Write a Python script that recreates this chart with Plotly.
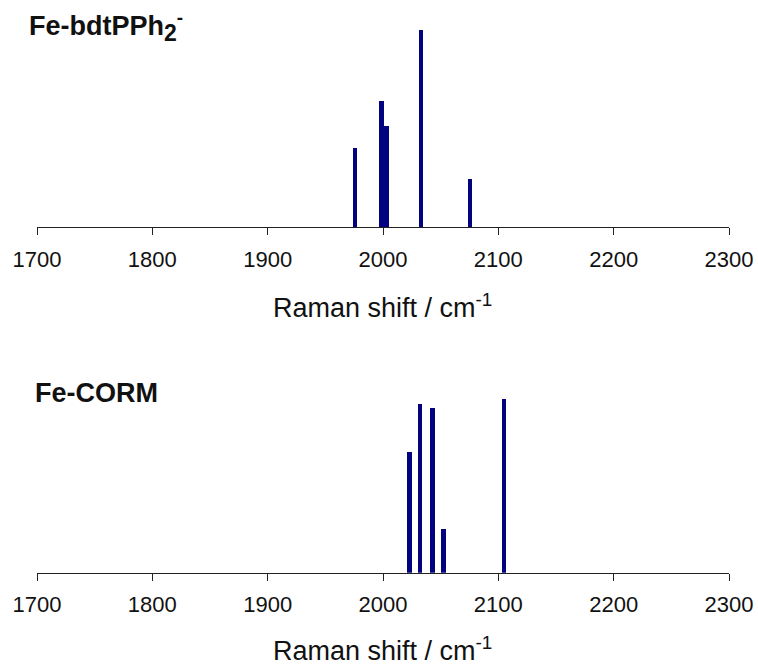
import plotly.graph_objects as go
from plotly.subplots import make_subplots

# Data (Raman shift in cm^-1, relative intensity)
bdt_shift = [1975.7, 1998.7, 2002.8, 2033.0, 2075.4]
bdt_int = [40.3, 63.9, 51.4, 100.0, 24.3]

corm_shift = [2023.0, 2032.0, 2042.7, 2052.7, 2105.0]
corm_int = [69.8, 97.5, 95.2, 25.0, 100.0]

tick_vals = [1700, 1800, 1900, 2000, 2100, 2200, 2300]
tick_text = ["1700", "1800", "1900", "2000", "2100", "2200", "2300"]

W, H = 758, 668
ML, MR = 37, 29
BAR_COLOR = "#03037f"
FONT = "Liberation Sans, Arial, sans-serif"

fig = make_subplots(rows=2, cols=1)

fig.add_trace(go.Bar(x=bdt_shift, y=bdt_int, width=4.1, marker=dict(color=BAR_COLOR, line=dict(width=0)),
                     showlegend=False), row=1, col=1)
fig.add_trace(go.Bar(x=corm_shift, y=corm_int, width=4.1, marker=dict(color=BAR_COLOR, line=dict(width=0)),
                     showlegend=False), row=2, col=1)

def py(p):
    return 1 - p / H

def px(p):
    return (p - ML) / (W - ML - MR)

xax = dict(range=[1700, 2300], tickvals=tick_vals, ticktext=tick_text, showgrid=False, zeroline=False,
           showline=True, linecolor="#222222", linewidth=1.3, ticks="outside", ticklen=7,
           tickcolor="#222222", tickwidth=1.3, ticklabelstandoff=5,
           tickfont=dict(family=FONT, size=22, color="#111111"))
yax = dict(range=[0, 110], visible=False, showgrid=False, zeroline=False)

fig.update_layout(
    width=W, height=H, margin=dict(l=ML, r=MR, t=0, b=0),
    plot_bgcolor="white", paper_bgcolor="white", bargap=0,
    xaxis=dict(**xax, domain=[0, 1], anchor="y"),
    xaxis2=dict(**xax, domain=[0, 1], anchor="y2"),
    yaxis=dict(**yax, domain=[py(227.3), py(227.3 - 197.6 * 1.1)]),
    yaxis2=dict(**yax, domain=[py(572.7), py(572.7 - 173.4 * 1.1)]),
)

annots = [
    dict(text="<b>Fe-bdtPPh<sub><span style='font-size:23px'>2</span></sub><sup>-</sup></b>",
         x=px(27), y=py(26), xanchor="left", yanchor="middle",
         font=dict(family=FONT, size=27, color="#111111")),
    dict(text="<b>Fe-CORM</b>", x=px(33), y=py(393), xanchor="left", yanchor="middle",
         font=dict(family=FONT, size=27, color="#111111")),
    dict(text="Raman shift / cm<sup>-1</sup>", x=px(382.5), y=py(306), xanchor="center", yanchor="middle",
         font=dict(family=FONT, size=27, color="#111111")),
    dict(text="Raman shift / cm<sup>-1</sup>", x=px(382.5), y=py(649), xanchor="center", yanchor="middle",
         font=dict(family=FONT, size=27, color="#111111")),
]
for a in annots:
    a.update(xref="paper", yref="paper", showarrow=False)
fig.update_layout(annotations=annots)

fig.write_html("out.html")
